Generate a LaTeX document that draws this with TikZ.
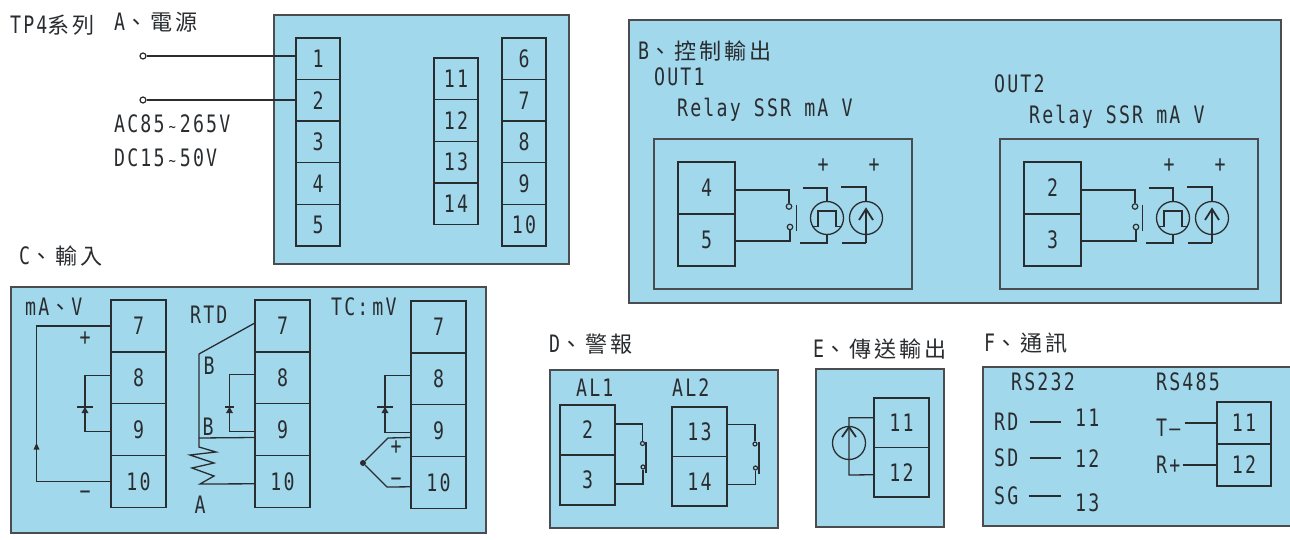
\documentclass[tikz,border=0pt]{standalone}
\usepackage{fontspec}
\setmainfont[FakeStretch=0.76, LetterSpace=9]{DejaVu Sans Mono}
\newfontfamily\cjk[Scale=0.92, LetterSpace=14]{Noto Sans CJK TC}
\usetikzlibrary{arrows.meta, positioning}
\definecolor{panelblue}{HTML}{A2D8EC}
\definecolor{ink}{HTML}{2A2D30}

\begin{document}
\begin{tikzpicture}[
    x=1pt, y=-1pt,
    node distance = 0pt,
    panel/.style = {draw=ink!85, line width=1.8pt, fill=panelblue},
    TM/.style args = {#1/#2}{
                    draw=ink, line width=1.4pt,
                    minimum width=#1, minimum height=#2,
                    inner sep=0pt, outer sep=0pt,
                    text=ink, font=\fontsize{24}{24}\selectfont},
    lbl/.style = {anchor=west, inner sep=0pt, text=ink,
                    font=\fontsize{24}{24}\selectfont},
    sign/.style = {inner sep=0pt, text=ink, font=\fontsize{24}{24}\selectfont},
    wire/.style = {draw=ink, line width=1.3pt},
    pin/.style = {circle, draw=ink, line width=1.2pt, fill=white,
                    minimum size=6pt, inner sep=0pt},
    cont/.style = {circle, draw=ink, line width=1.2pt,
                    minimum size=5.5pt, inner sep=0pt},
    cont2/.style = {cont, minimum size=4pt},
    dot/.style = {circle, fill=ink, minimum size=6pt, inner sep=0pt},
    srcsym/.pic = {\draw[wire] (0,0) circle (16.5pt);
                    \draw[wire, line width=1.8pt] (-7,2) -- (0,-9) -- (7,2);
                    \draw[wire] (0,-9) -- (0,25);},
    dio/.pic = {\draw[wire] (-#1,0) -- (#1,0);
                    \fill[ink] (0,0) -- (-3.5,6) -- (3.5,6) -- cycle;}]
%---
\useasboundingbox (0,0) rectangle (1290,540);
% panels
\draw[panel] (274,15) rectangle (569,264);
\draw[panel] (629,20) rectangle (1281,303);
\draw[panel] (11,287) rectangle (486,533);
\draw[panel] (550,370) rectangle (778,528);
\draw[panel] (816,369) rectangle (944,527);
\path[panel] (1290,367) -- (983,367) -- (983,526) -- (1290,526);
% headings
\node[lbl] (ttl) at (10,25)   {TP4{\cjk 系列}};
\node[lbl] (hA) at (114,22)   {A{\cjk 、電源}};
\node[lbl] (hB) at (638,51)   {B{\cjk 、控制輸出}};
\node[lbl] (hC) at (19,256)   {C{\cjk 、輸入}};
\node[lbl] (hD) at (549,344)  {D{\cjk 、警報}};
\node[lbl] (hE) at (813,349)  {E{\cjk 、傳送輸出}};
\node[lbl] (hF) at (984,343)  {F{\cjk 、通訊}};
% A: power
\node (a1) [TM=44pt/41.6pt, anchor=north west] at (296,38) {1};
\node (a2) [TM=44pt/41.6pt, below=of a1] {2};
\node (a3) [TM=44pt/41.6pt, below=of a2] {3};
\node (a4) [TM=44pt/41.6pt, below=of a3] {4};
\node (a5) [TM=44pt/41.6pt, below=of a4] {5};
\node (a11) [TM=44pt/41.7pt, anchor=north west] at (434,58) {11};
\node (a12) [TM=44pt/41.7pt, below=of a11] {12};
\node (a13) [TM=44pt/41.7pt, below=of a12] {13};
\node (a14) [TM=44pt/41.7pt, below=of a13] {14};
\node (a6) [TM=44pt/41.6pt, anchor=north west] at (502,38) {6};
\node (a7) [TM=44pt/41.6pt, below=of a6] {7};
\node (a8) [TM=44pt/41.6pt, below=of a7] {8};
\node (a9) [TM=44pt/41.6pt, below=of a8] {9};
\node (a10) [TM=44pt/41.6pt, below=of a9] {10};
\node (p1) [pin] at (143,56) {};
\node (p2) [pin] at (143,100) {};
\draw[wire] (p1) -- (p1 -| a1.west);
\draw[wire] (p2) -- (p2 -| a2.west);
\node[lbl] (acv) at (114,124) {AC85\,{\fontsize{16}{16}\selectfont\textasciitilde}\,265V};
\node[lbl] (dcv) at (114,158) {DC15\,{\fontsize{16}{16}\selectfont\textasciitilde}\,50V};
% B: control output
\node[lbl] (out1) at (654,77)  {OUT1};
\node[lbl] (out2) at (994,84)  {OUT2};
\node[lbl] (typ1) at (677,110) {Relay SSR mA V};
\node[lbl] (typ2) at (1029,117) {Relay SSR mA V};
\foreach \dx/\ta/\tb in {0/4/5, 346/2/3}{
\begin{scope}[shift={(\dx,0)}]
\draw[panel, line width=1.4pt] (654,139) rectangle (912,289);
\node (t\ta) [TM=57pt/52pt, anchor=north west] at (678,162) {\ta};
\node (t\tb) [TM=57pt/52pt, below=of t\ta] {\tb};
\node (k\ta) [cont] at (789,206.5) {};
\node (k\tb) [cont] at (790,227) {};
\draw[wire] ([yshift=-2pt]t\ta.east) -| (k\ta.north);
\draw[wire] ([yshift=-1pt]t\tb.east) -| (k\tb.south);
\draw[wire] (796.5,205) -- (796.5,231);
% pulse symbol
\node (ss\ta) [circle, draw=ink, line width=1.3pt, minimum size=33pt, inner sep=0pt] at (827,218) {};
\draw[wire] (803,188) -| (ss\ta.north);
\draw[wire] (800,243) -| (ss\ta.south);
\draw[wire] (812,226.5) -- (818,226.5) -- (818,211) -- (836,211) -- (836,226.5) -- (842,226.5);
% current symbol
\pic at (866,218) {srcsym};
\draw[wire] (841,187) -- (866,187) -- (866,201);
\draw[wire] (842,243) -- (866,243);
\node[sign] (ps\ta) at (823,166) {+};
\node[sign] (pm\ta) at (874,166) {+};
\end{scope}}
% C: input
\node (c7) [TM=55pt/51.8pt, anchor=north west] at (111,300) {7};
\node (c8) [TM=55pt/51.8pt, below=of c7] {8};
\node (c9) [TM=55pt/51.8pt, below=of c8] {9};
\node (c10) [TM=55pt/51.8pt, below=of c9] {10};
\node[lbl] (lmA) at (25,307) {mA{\cjk 、}V};
\draw[wire] (c7.west) -- ++(-74.5,0) |- (c10.west);
\fill[ink] (36.5,443) -- (33.5,449.5) -- (39.5,449.5) -- cycle;
\draw[wire] ([yshift=2.5pt]c8.west) -- ++(-26,0) |- ([yshift=-2pt]c9.west);
\pic at (85,407) {dio=8};
\node[sign] (pl1) at (85,339) {+};
\node[sign] (mi1) at (85,495) {−};
% RTD
\node (r7) [TM=55pt/51.8pt, anchor=north west] at (255,300) {7};
\node (r8) [TM=55pt/51.8pt, below=of r7] {8};
\node (r9) [TM=55pt/51.8pt, below=of r8] {9};
\node (r10) [TM=55pt/51.8pt, below=of r9] {10};
\node[lbl] (lrtd) at (190,315) {RTD};
\draw[wire] ([yshift=3pt]r7.west) -- (199,354) -- (199,438) -- ([yshift=-8pt]r9.west);
\draw[wire] (199,438) -- (199,447) -- (216,452) -- (190,455) -- (214,463) -- (192,468) -- (214,476) -- (200,484) -- ([yshift=-2.5pt]r10.west);
\draw[wire] ([yshift=3pt]r8.west) -- ++(-25.5,0) |- ([yshift=-2pt]r9.west);
\pic at (229.5,407) {dio=4.5};
\node[sign] (b1) at (209,366) {B};
\node[sign] (b2) at (208,427) {B};
\node[sign] (a0) at (200,505) {A};
% TC
\node (v7) [TM=55pt/51.8pt, anchor=north west] at (411,301) {7};
\node (v8) [TM=55pt/51.8pt, below=of v7] {8};
\node (v9) [TM=55pt/51.8pt, below=of v8] {9};
\node (v10) [TM=55pt/51.8pt, below=of v9] {10};
\node[lbl] (ltc) at (331,307) {TC:\,mV};
\draw[wire] ([yshift=3pt]v8.west) -- ++(-26,0) |- ([yshift=-2pt]v9.west);
\pic at (385,407) {dio=8};
\node (tj) [dot] at (363,463) {};
\draw[wire] (tj) -- (388,438) -- ([yshift=-7pt]v9.west);
\draw[wire] (tj) -- (387,487) -- ([yshift=-4.5pt]v10.west);
\node[sign] (pl2) at (396,448) {+};
\node[sign] (mi2) at (396,482) {−};
% D: alarm
\node[lbl] (al1) at (576,388) {AL1};
\node[lbl] (al2) at (672,388) {AL2};
\node (d2) [TM=55pt/50pt, anchor=north west] at (560,405) {2};
\node (d3) [TM=55pt/50pt, below=of d2] {3};
\node (d13) [TM=55pt/49.5pt, anchor=north west] at (672,407) {13};
\node (d14) [TM=55pt/49.5pt, below=of d13] {14};
\node (k2) [cont2] at (642.5,443.5) {};
\node (k3) [cont2] at (643,467) {};
\node (k13) [cont2] at (755,444) {};
\node (k14) [cont2] at (755.5,468) {};
\draw[wire] ([yshift=6pt]d2.east) -| (k2.north);
\draw[wire] ([yshift=-4pt]d3.east) -| (k3.south);
\draw[wire] ([yshift=7pt]d13.east) -| (k13.north);
\draw[wire] ([yshift=-3.5pt]d14.east) -| (k14.south);
\draw[wire] (646,442) -- (646,473);
\draw[wire] (759,442) -- (759,474);
% E: retransmission
\node (e11) [TM=55pt/49.5pt, anchor=north west] at (874,398) {11};
\node (e12) [TM=55pt/49.5pt, below=of e11] {12};
\draw[wire] (849,443) circle (16.5pt);
\draw[wire, line width=1.8pt] (842,437) -- (849,427) -- (856,437);
\draw[wire] ([yshift=5pt]e11.west) -| (849,475) -- ([yshift=-2.5pt]e12.west);
% F: communication
\node[lbl] (rs232) at (1011,382) {RS232};
\node[lbl] (rs485) at (1156,382) {RS485};
\node[lbl] (rd) at (994,422) {RD};
\node[lbl] (sd) at (994,458) {SD};
\node[lbl] (sg) at (994,496) {SG};
\node[lbl] (n11) at (1075,418) {11};
\node[lbl] (n12) at (1075,459) {12};
\node[lbl] (n13) at (1075,503) {13};
\draw[wire, shorten <=11pt, shorten >=14pt] (rd.east) -- (rd.east -| n11.west);
\draw[wire, shorten <=11pt, shorten >=14pt] (sd.east) -- (sd.east -| n12.west);
\draw[wire, shorten <=10pt, shorten >=14pt] (sg.east) -- (sg.east -| n13.west);
\node (f11) [TM=54pt/42pt, anchor=north west] at (1217,402) {11};
\node (f12) [TM=54pt/42pt, below=of f11] {12};
\node[lbl] (tm) at (1156,428) {T–};
\node[lbl] (rp) at (1156,465) {R+};
\draw[wire, shorten <=4pt] (tm.east |- f11.west) -- (f11.west);
\draw[wire, shorten <=2pt] (rp.east |- f12.west) -- (f12.west);
\end{tikzpicture}
\end{document}
